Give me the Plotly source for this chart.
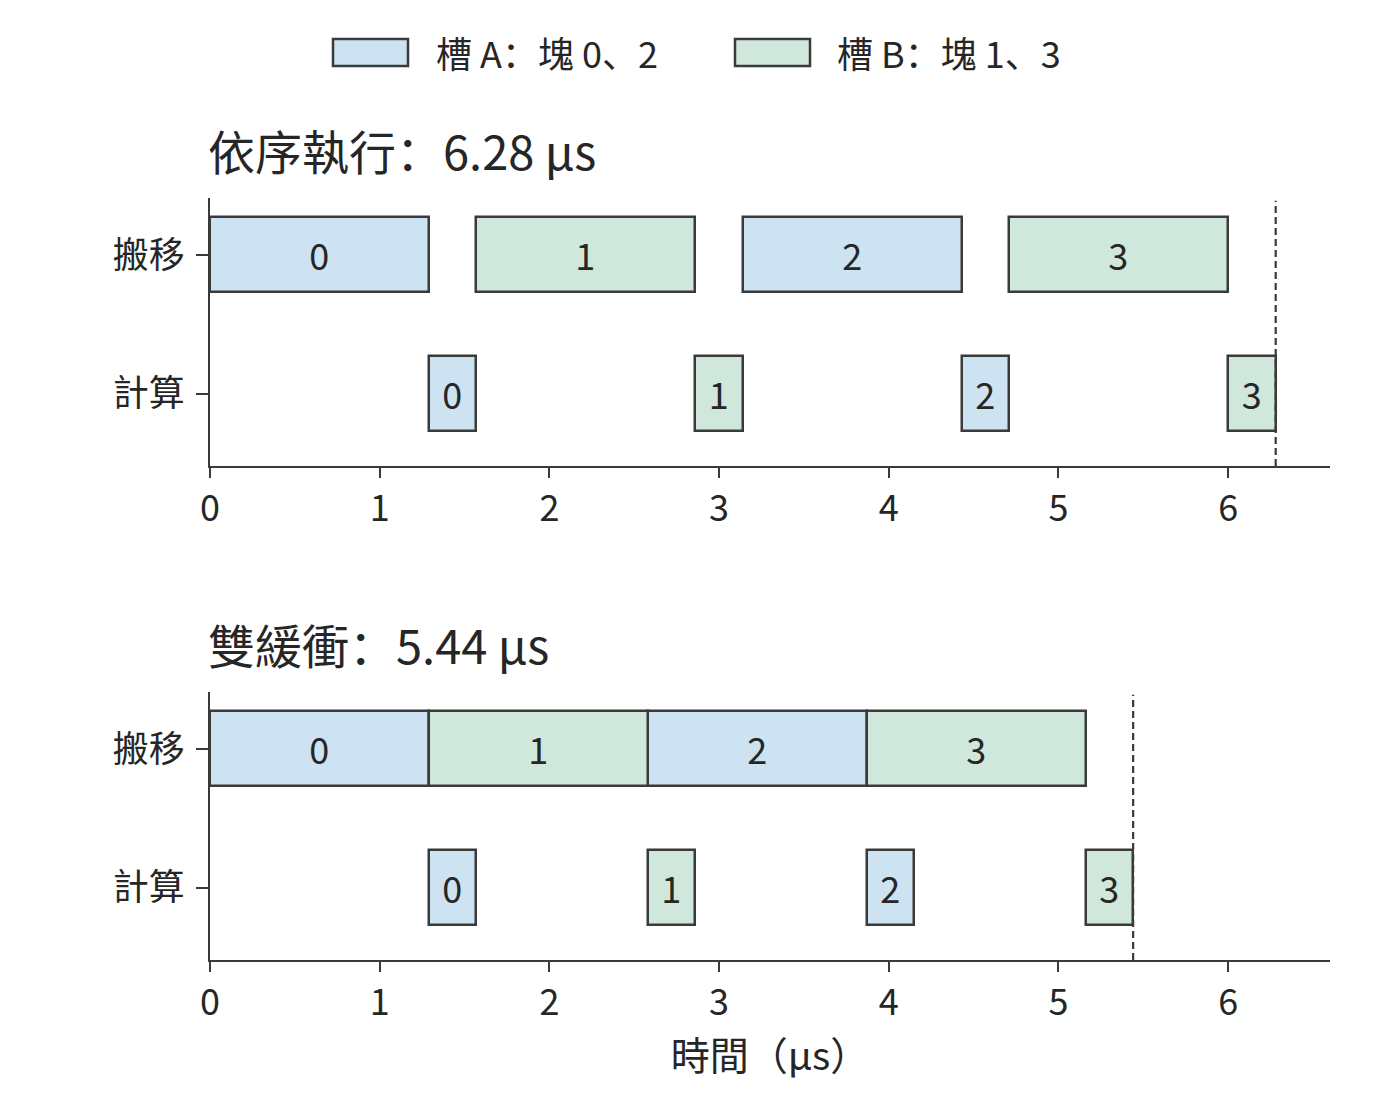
import plotly.graph_objects as go
from plotly.subplots import make_subplots

FONT = "Noto Sans CJK SC"
INK = "#3a3a3a"
TEXT = "#262626"

# data
rows = ["搬移", "計算"]
blocks = [0, 1, 2, 3]
slot_of_block = ["A", "B", "A", "B"]
transfer_dur = 1.29
compute_dur = 0.28

seq_transfer_start = [0.0, 1.57, 3.14, 4.71]
seq_compute_start = [1.29, 2.86, 4.43, 6.00]
dbl_transfer_start = [0.0, 1.29, 2.58, 3.87]
dbl_compute_start = [1.29, 2.58, 3.87, 5.16]

panel_names = ["依序執行", "雙緩衝"]
totals = [6.28, 5.44]

slot_colors = {"A": "#cde3f2", "B": "#d0e8dc"}
slot_labels = {"A": "槽 A：塊 0、2", "B": "槽 B：塊 1、3"}

x_ticks = [0, 1, 2, 3, 4, 5, 6]

fig = make_subplots(rows=2, cols=1, vertical_spacing=0.2966)

panels = [
    (seq_transfer_start, seq_compute_start),
    (dbl_transfer_start, dbl_compute_start),
]

row_y = {"搬移": 1, "計算": 0}

for p, (t_start, c_start) in enumerate(panels, 1):
    for slot in ["A", "B"]:
        idx = [i for i, s in enumerate(slot_of_block) if s == slot]
        base = [t_start[i] for i in idx] + [c_start[i] for i in idx]
        dur = [transfer_dur] * len(idx) + [compute_dur] * len(idx)
        ys = [row_y["搬移"]] * len(idx) + [row_y["計算"]] * len(idx)
        txt = [str(blocks[i]) for i in idx] * 2
        fig.add_trace(
            go.Bar(
                x=dur,
                base=base,
                y=ys,
                orientation="h",
                width=0.54,
                text=txt,
                textposition="inside",
                insidetextanchor="middle",
                textangle=0,
                constraintext="none",
                textfont=dict(family=FONT, size=36, color=TEXT),
                marker=dict(color=slot_colors[slot], line=dict(color=INK, width=2.5)),
                showlegend=False,
                hoverinfo="skip",
            ),
            row=p,
            col=1,
        )

    # finishing time marker
    fig.add_shape(
        type="line",
        xref=f"x{p if p > 1 else ''}",
        yref=f"y{p if p > 1 else ''} domain",
        x0=totals[p - 1],
        x1=totals[p - 1],
        y0=0,
        y1=0.99,
        line=dict(color=INK, width=2.2, dash="7px,4px"),
    )

    fig.add_annotation(
        text=f"{panel_names[p - 1]}：{totals[p - 1]:.2f} µs",
        xref=f"x{p if p > 1 else ''} domain",
        yref=f"y{p if p > 1 else ''} domain",
        x=0,
        y=1,
        xanchor="left",
        yanchor="bottom",
        xshift=-4,
        yshift=12,
        showarrow=False,
        font=dict(family=FONT, size=47, color=TEXT),
    )

axis_common = dict(
    showline=True,
    linecolor=INK,
    linewidth=2.2,
    ticks="outside",
    tickcolor=INK,
    tickwidth=2.2,
    showgrid=False,
    zeroline=False,
    tickfont=dict(family=FONT, size=36, color=TEXT),
)

fig.update_xaxes(
    range=[0, 6.6],
    tickvals=x_ticks,
    ticklen=10,
    **axis_common,
)
fig.update_yaxes(
    range=[-0.52, 1.41],
    tickvals=[row_y[r] for r in rows],
    ticktext=rows,
    ticklen=12,
    ticklabelstandoff=4,
    **axis_common,
)
fig.update_xaxes(
    title=dict(text="時間（µs）", font=dict(family=FONT, size=39, color=TEXT), standoff=2),
    row=2,
    col=1,
)

# legend drawn by hand to get the wide swatches
legend_items = [("A", 333, 437), ("B", 735, 838)]
for slot, sx, tx in legend_items:
    fig.add_shape(
        type="rect",
        xref="paper",
        yref="paper",
        x0=(sx - 210) / 1120,
        x1=(sx + 75 - 210) / 1120,
        y0=(960 - 66) / 762,
        y1=(960 - 39) / 762,
        fillcolor=slot_colors[slot],
        line=dict(color=INK, width=2.5),
    )
    fig.add_annotation(
        text=slot_labels[slot],
        xref="paper",
        yref="paper",
        x=(tx - 210) / 1120,
        y=(960 - 52) / 762,
        xanchor="left",
        yanchor="middle",
        xshift=-3,
        showarrow=False,
        font=dict(family=FONT, size=36, color=TEXT),
    )

fig.update_layout(
    width=1400,
    height=1104,
    margin=dict(l=202, r=78, t=190, b=152),
    paper_bgcolor="white",
    plot_bgcolor="white",
    barmode="overlay",
    bargap=0,
    font=dict(family=FONT, color=TEXT),
)

fig.write_html("out.html")
